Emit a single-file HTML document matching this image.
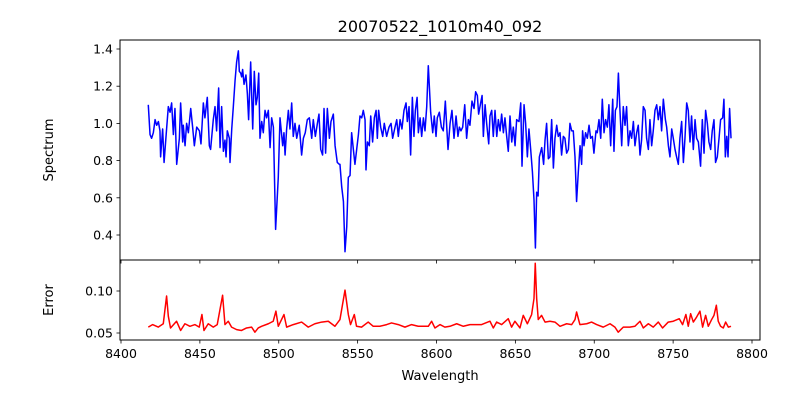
<!DOCTYPE html>
<html><head><meta charset="utf-8"><style>
body{margin:0;background:#fff}
svg{display:block;font-family:"DejaVu Sans","Liberation Sans",sans-serif}
</style></head><body>
<svg id="chart" width="800" height="400" viewBox="0 0 800 400" xmlns="http://www.w3.org/2000/svg">
<rect width="800" height="400" fill="#fff"/>
<defs>
<clipPath id="cTop"><rect x="120" y="40" width="640" height="220"/></clipPath>
<clipPath id="cBot"><rect x="120" y="260" width="640" height="80"/></clipPath>
</defs>
<text x="440" y="32" font-size="16" text-anchor="middle">20070522_1010m40_092</text>
<g id="topPanel"></g>
<g id="botPanel"></g>
<text transform="translate(53,150) rotate(-90)" font-size="13" text-anchor="middle">Spectrum</text>
<text transform="translate(53,300) rotate(-90)" font-size="13" text-anchor="middle">Error</text>
<text x="440" y="380" font-size="13" text-anchor="middle">Wavelength</text>
</svg>
<script>
const specWave=[8417.3,8418.4,8419.4,8420.5,8421.6,8422.6,8423.7,8424.7,8425.1,8426.4,8427.3,8428.9,8430.0,8431.1,8432.1,8433.2,8434.2,8435.3,8437.0,8437.8,8439.1,8439.5,8440.6,8441.6,8442.7,8444.2,8445.4,8446.5,8448.0,8449.7,8450.7,8452.2,8453.2,8454.7,8456.0,8456.8,8458.5,8459.6,8460.6,8461.9,8462.8,8463.8,8464.9,8465.9,8466.6,8467.4,8468.7,8469.1,8470.2,8471.2,8472.3,8473.3,8474.4,8475.0,8475.9,8476.5,8477.1,8478.0,8479.2,8480.1,8480.9,8482.2,8483.5,8484.5,8485.6,8486.4,8487.3,8488.1,8489.2,8490.2,8491.3,8492.3,8493.4,8494.5,8495.5,8496.6,8498.0,8499.7,8500.8,8502.5,8503.3,8504.0,8505.0,8506.1,8507.1,8508.2,8509.2,8510.3,8511.4,8513.0,8514.5,8515.6,8516.8,8518.1,8519.4,8520.9,8521.9,8523.2,8524.5,8525.5,8526.6,8527.8,8528.7,8529.7,8530.8,8532.1,8533.1,8534.6,8535.7,8537.1,8538.4,
8538.8,8539.9,8541.0,8542.0,8543.1,8544.1,8545.2,8546.2,8547.3,8548.3,8549.4,8550.5,8551.5,8552.6,8553.6,8554.7,8555.3,8556.2,8557.4,8558.3,8559.5,8560.6,8561.7,8562.5,8563.3,8564.6,8565.9,8566.9,8568.4,8569.9,8571.2,8572.2,8573.7,8574.8,8575.8,8576.9,8578.1,8579.4,8580.7,8581.5,8582.6,8583.6,8584.7,8585.7,8586.6,8587.7,8588.5,8589.6,8590.6,8591.7,8592.7,8593.8,8594.8,8596.3,8597.6,8598.6,8599.7,8600.5,8601.8,8603.1,8604.3,8605.6,8606.5,8607.3,8608.6,8609.8,8611.1,8612.4,8613.6,8614.5,8615.5,8616.6,8617.9,8619.1,8620.2,8621.2,8622.5,8623.8,8624.8,8625.9,8626.7,8628.0,8628.9,8629.7,8630.8,8631.8,8633.1,8633.9,8635.0,8636.0,8637.1,8638.2,8639.2,8640.3,8641.3,8642.4,8643.4,8644.5,8645.5,8646.6,8647.7,8648.7,8649.8,8650.8,8652.3,8653.4,8654.2,8655.5,8656.5,8657.6,8658.6,8659.7,8660.8,8661.8,8662.7,8663.5,8664.4,8665.2,8666.7,8667.9,8668.8,8669.8,8670.9,8671.9,
8673.0,8674.1,8675.1,8676.2,8677.2,8678.3,8679.3,8680.4,8681.4,8682.5,8683.6,8684.6,8685.7,8686.7,8687.8,8688.8,8689.9,8691.0,8692.0,8692.6,8693.5,8694.5,8695.6,8696.7,8697.7,8698.8,8699.8,8701.1,8701.9,8703.0,8704.1,8705.1,8706.2,8707.2,8708.3,8709.3,8710.4,8711.7,8712.5,8713.4,8714.4,8715.3,8716.3,8717.4,8718.4,8719.5,8720.5,8721.6,8722.7,8723.7,8724.8,8725.8,8726.9,8727.9,8729.0,8730.0,8731.1,8732.2,8733.2,8734.3,8735.3,8736.4,8737.4,8738.5,8739.6,8740.6,8741.7,8742.7,8743.8,8745.1,8745.9,8747.0,8748.0,8749.1,8750.1,8751.2,8752.2,8753.3,8754.3,8755.4,8756.5,8757.5,8758.6,8759.6,8760.7,8761.7,8762.8,8763.9,8764.9,8766.0,8767.4,8768.5,8769.6,8770.6,8771.7,8772.7,8773.8,8774.8,8775.9,8776.9,8778.0,8779.1,8780.1,8781.4,8782.2,8783.1,8784.0,8784.8,8785.8,8786.7];
const specFlux=[1.10,0.94,0.92,0.95,1.02,0.99,1.01,0.96,0.82,0.97,0.79,0.97,1.09,1.06,1.11,0.94,1.08,0.78,0.92,1.11,0.90,0.99,0.88,1.00,0.95,1.08,0.98,0.88,0.98,0.96,0.89,1.11,1.03,1.14,0.88,0.86,1.02,1.09,0.96,1.19,0.87,1.09,0.85,0.91,0.82,0.96,0.92,0.79,0.97,1.09,1.23,1.33,1.39,1.28,1.27,1.25,1.29,1.21,1.26,1.16,1.02,1.33,0.97,1.28,1.10,1.14,1.27,0.92,1.01,0.95,1.07,1.03,1.07,0.87,1.03,0.98,0.43,0.71,1.03,0.88,0.95,0.83,0.97,1.07,0.97,1.11,0.93,1.00,0.92,0.99,0.83,0.92,0.95,1.02,1.03,0.92,1.02,0.93,1.00,1.05,0.86,0.83,1.08,0.84,1.08,0.92,1.01,1.05,0.88,0.79,0.78,
0.78,0.66,0.58,0.31,0.445,0.71,0.72,0.95,0.86,0.78,0.86,0.94,1.04,1.03,1.07,1.02,0.75,0.90,0.88,1.04,0.90,1.03,1.07,0.92,1.07,0.98,0.93,1.00,0.93,0.98,1.00,0.92,0.98,1.02,0.93,1.02,0.97,1.07,1.11,1.01,1.09,0.83,1.14,0.93,1.07,1.14,0.95,1.03,0.93,1.03,0.96,1.09,1.31,1.06,0.95,1.04,0.93,1.03,1.06,0.98,0.96,1.12,0.98,0.86,1.00,1.07,0.92,1.04,0.93,0.98,0.96,0.98,1.10,0.92,1.02,0.99,1.12,1.08,1.17,1.15,1.05,1.11,1.15,0.93,1.10,1.00,0.89,1.04,1.07,0.93,1.07,0.93,1.02,0.96,1.05,0.95,1.03,0.93,0.85,1.04,0.90,0.98,0.88,1.02,1.01,1.11,0.77,1.10,1.00,0.82,0.97,0.86,0.74,0.59,0.33,0.63,0.61,0.82,0.87,0.78,0.91,1.00,0.81,0.82,
1.02,0.76,0.92,0.99,0.93,0.95,0.83,0.93,0.92,0.84,0.86,1.00,0.96,0.96,0.82,0.58,0.74,0.88,0.78,0.96,0.88,0.95,0.92,0.99,0.92,0.93,0.84,0.96,0.95,1.02,0.92,1.13,0.95,1.02,0.98,1.10,0.88,1.13,0.85,1.07,1.09,1.27,1.07,0.88,1.09,0.99,1.09,0.88,0.96,0.92,1.01,0.88,0.95,0.99,0.83,0.91,1.09,1.07,0.92,0.86,1.02,0.88,0.96,1.07,1.10,1.02,1.09,0.96,1.13,1.02,0.98,0.88,0.82,0.97,0.92,0.86,0.82,0.78,0.92,1.01,0.79,0.92,1.11,1.07,0.90,1.04,0.86,1.02,0.92,0.90,0.77,1.02,0.84,1.07,1.00,0.90,0.86,0.96,1.02,0.79,0.82,0.92,1.02,1.03,1.13,0.82,0.93,0.82,1.08,0.92];
const errWave=[8417.3,8420.0,8423.6,8426.8,8428.9,8430.0,8431.4,8435.2,8437.8,8440.5,8443.7,8446.9,8449.6,8451.3,8452.6,8455.3,8458.5,8461.0,8464.4,8465.9,8468.0,8470.1,8473.3,8476.4,8479.6,8482.8,8484.9,8487.0,8489.1,8493.4,8496.5,8498.2,8499.7,8503.3,8505.0,8509.2,8514.5,8518.7,8522.9,8527.2,8531.4,8535.6,8538.8,8542.0,8544.1,8545.5,8547.9,8549.3,8552.5,8556.7,8559.9,8564.1,8568.4,8571.5,8575.8,8580.0,8584.2,8588.4,8591.6,8594.8,8596.9,8599.0,8602.2,8605.3,8608.5,8612.8,8617.0,8621.2,8625.4,8628.6,8633.9,8636.0,8638.1,8641.3,8645.5,8647.6,8649.7,8652.9,8655.0,8657.6,8660.3,8661.8,8662.6,8663.5,8664.5,8666.6,8668.8,8671.9,8675.1,8678.3,8682.5,8685.7,8687.8,8688.8,8690.9,8695.2,8698.3,8701.5,8705.7,8710.0,8713.1,8715.2,8718.4,8722.6,8725.8,8729.0,8731.1,8734.3,8737.4,8740.6,8743.3,8746.9,8750.1,8753.9,8756.0,8758.1,8759.6,8761.1,8762.8,8764.9,8767.0,8768.7,8770.6,8772.3,8774.4,8775.9,8777.4,8778.6,8780.1,8781.8,8783.3,8785.0,8786.7];
const errVal=[0.057,0.060,0.057,0.061,0.094,0.070,0.056,0.064,0.053,0.061,0.058,0.060,0.057,0.072,0.053,0.061,0.057,0.060,0.095,0.060,0.064,0.057,0.054,0.053,0.056,0.057,0.051,0.056,0.058,0.061,0.064,0.076,0.058,0.072,0.057,0.060,0.063,0.057,0.061,0.063,0.064,0.058,0.066,0.101,0.072,0.060,0.072,0.058,0.057,0.063,0.058,0.058,0.060,0.062,0.060,0.057,0.060,0.058,0.058,0.058,0.064,0.056,0.060,0.057,0.058,0.061,0.058,0.060,0.060,0.060,0.064,0.056,0.063,0.060,0.067,0.057,0.064,0.056,0.071,0.061,0.072,0.091,0.133,0.091,0.066,0.071,0.063,0.064,0.063,0.058,0.061,0.060,0.066,0.075,0.060,0.061,0.063,0.060,0.057,0.061,0.057,0.051,0.057,0.057,0.058,0.064,0.056,0.061,0.057,0.063,0.056,0.063,0.064,0.067,0.060,0.072,0.058,0.073,0.063,0.069,0.076,0.057,0.071,0.058,0.066,0.071,0.083,0.064,0.058,0.056,0.063,0.057,0.058];
const xTicks=[8400,8450,8500,8550,8600,8650,8700,8750,8800];
const topTicks=[0.4,0.6,0.8,1.0,1.2,1.4];
const topTickLabels=["0.4","0.6","0.8","1.0","1.2","1.4"];
const botTicks=[0.05,0.10];
const botTickLabels=["0.05","0.10"];

const NS="http://www.w3.org/2000/svg";
const X0=120,X1=760,TY0=40,TY1=260,BY0=260,BY1=340;
const xs=w=>121+(w-8400)*1.5775;
const ys=v=>49+(1.4-v)*186;
const ye=v=>291+(0.10-v)*840;
function mk(tag,attrs,parent){const e=document.createElementNS(NS,tag);for(const k in attrs)e.setAttribute(k,attrs[k]);parent.appendChild(e);return e;}
const topG=document.getElementById('topPanel'),botG=document.getElementById('botPanel');

let d=specWave.map((w,i)=>(i?'L':'M')+xs(w).toFixed(2)+','+ys(specFlux[i]).toFixed(2)).join('');
const sp=mk('path',{d:d,fill:'none',stroke:'#0000ff','stroke-width':1.5,'stroke-linejoin':'round','clip-path':'url(#cTop)'},topG);


d=errWave.map((w,i)=>(i?'L':'M')+xs(w).toFixed(2)+','+ye(errVal[i]).toFixed(2)).join('');
const ep=mk('path',{d:d,fill:'none',stroke:'#ff0000','stroke-width':1.5,'stroke-linejoin':'round','clip-path':'url(#cBot)'},botG);



const f1=mk('rect',{x:X0,y:TY0,width:X1-X0,height:TY1-TY0,fill:'none',stroke:'#000','stroke-width':1},topG);


const f2=mk('rect',{x:X0,y:BY0,width:X1-X0,height:BY1-BY0,fill:'none',stroke:'#000','stroke-width':1},botG);



xTicks.forEach(t=>{const x=xs(t);
 mk('line',{x1:x,x2:x,y1:TY1,y2:TY1+3.5,stroke:'#000','stroke-width':0.8},topG);
 mk('line',{x1:x,x2:x,y1:BY1,y2:BY1+3.5,stroke:'#000','stroke-width':0.8},botG);
 const tx=mk('text',{x:x,y:BY1+18,'font-size':12.5,'text-anchor':'middle'},botG);
 tx.textContent=t;
 
 
});
topTicks.forEach((t,i)=>{const y=ys(t);
 mk('line',{x1:X0-3.5,x2:X0,y1:y,y2:y,stroke:'#000','stroke-width':0.8},topG);
 const tx=mk('text',{x:X0-7,y:y+4.5,'font-size':12.5,'text-anchor':'end'},topG);
 tx.textContent=topTickLabels[i];
 
 
});
botTicks.forEach((t,i)=>{const y=ye(t);
 mk('line',{x1:X0-3.5,x2:X0,y1:y,y2:y,stroke:'#000','stroke-width':0.8},botG);
 const tx=mk('text',{x:X0-7,y:y+4.5,'font-size':12.5,'text-anchor':'end'},botG);
 tx.textContent=botTickLabels[i];
 
 
});
</script>
</body></html>
